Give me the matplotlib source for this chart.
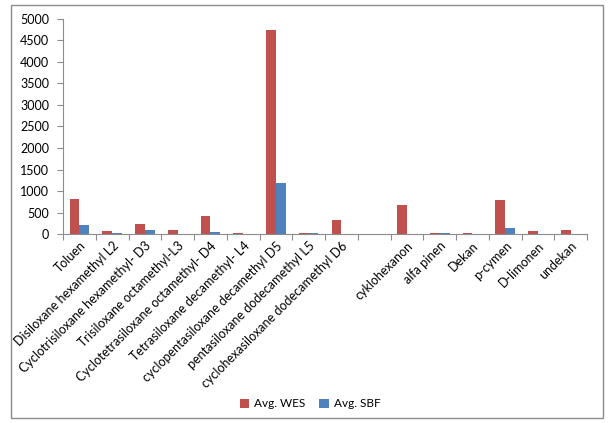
import numpy as np
import matplotlib
matplotlib.use("Agg")
import matplotlib.pyplot as plt
from matplotlib.patches import Rectangle
from matplotlib.transforms import Bbox, TransformedBbox

plt.rcParams['font.family'] = ['Lato', 'DejaVu Sans']

# data
compounds = ['Toluen', 'Disiloxane hexamethyl L2', 'Cyclotrisiloxane hexamethyl- D3',
             'Trisiloxane octamethyl-L3', 'Cyclotetrasiloxane octamethyl- D4',
             'Tetrasiloxane decamethyl- L4', 'cyclopentasiloxane decamethyl D5',
             'pentasiloxane dodecamethyl L5', 'cyclohexasiloxane dodecamethyl D6', '',
             'cyklohexanon', 'alfa pinen', 'Dekan', 'p-cymen', 'D-limonen', 'undekan']
avg_wes = [815, 60, 240, 100, 418, 30, 4750, 30, 325, 0, 680, 30, 25, 797, 70, 90]
avg_sbf = [215, 30, 100, 5, 50, 5, 1193, 30, 0, 0, 0, 30, 0, 146, 0, 0]

red = '#C0504D'
blue = '#4F81BD'
axis_gray = '#8C8C8C'

fig = plt.figure(figsize=(6.08, 4.23), dpi=100)
ax = fig.add_axes([0.1036, 0.4468, 0.862, 0.5083])

x = np.arange(len(compounds))
w = 0.3
ax.bar(x - w/2, avg_wes, w, color=red, label='Avg. WES')
ax.bar(x + w/2, avg_sbf, w, color=blue, label='Avg. SBF')

ax.set_xlim(-0.5, len(compounds) - 0.5)
ax.set_ylim(0, 5000)
ax.set_yticks(np.arange(0, 5001, 500))

# ticks between categories, labels at the centers
ax.set_xticks(np.arange(-0.5, len(compounds), 1))
ax.set_xticklabels([])
ax.set_xticks(x, minor=True)
ax.set_xticklabels(compounds, minor=True, rotation=45, ha='right',
                   rotation_mode='anchor', fontsize=9)
ax.tick_params(axis='x', which='minor', length=0, pad=4)
ax.tick_params(axis='x', which='major', length=4, color=axis_gray, direction='out')
ax.tick_params(axis='y', length=4, color=axis_gray, labelsize=9, pad=6)

for side in ['top', 'right']:
    ax.spines[side].set_visible(False)
for side in ['left', 'bottom']:
    ax.spines[side].set_color(axis_gray)

fig.legend(loc='center', bbox_to_anchor=(0.51, 0.045), ncol=2, frameon=False,
           fontsize=8.5, handlelength=0.8, handleheight=0.8, columnspacing=1.2,
           handletextpad=0.4)

# outer chart border; labels are cut off at it
border = (11/608, 5/423, 592/608, 413/423)
fig.patches.append(Rectangle(border[:2], border[2], border[3], transform=fig.transFigure,
                             fill=False, edgecolor='#8C8C8C', linewidth=1))
clip = TransformedBbox(Bbox.from_bounds(*border), fig.transFigure)
for lbl in ax.get_xticklabels(minor=True):
    lbl.set_clip_on(True)
    lbl.set_clip_box(clip)

fig.savefig('out.png', dpi=100)
